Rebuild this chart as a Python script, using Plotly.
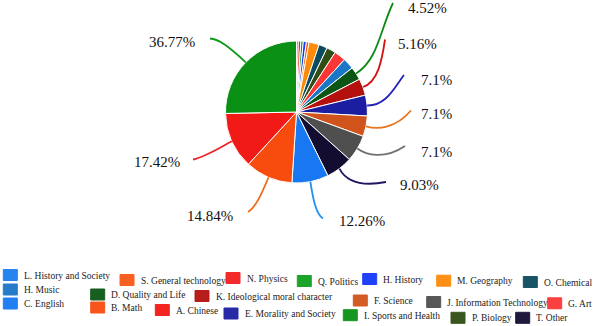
import math
import plotly.graph_objects as go

W, H = 595, 326

# ---- data (slices in clockwise order from 12 o'clock) ----
categories = [
    "L. History and Society", "N. Physics", "Q. Politics", "H. History",
    "S. General technology", "M. Geography", "O. Chemical", "P. Biology", "G. Art", "H. Music",
    "D. Quality and Life", "K. Ideological moral character", "E. Morality and Society",
    "F. Science", "J. Information Technology", "T. Other", "C. English", "B. Math",
    "A. Chinese", "I. Sports and Health",
]
values = [0.42, 0.56, 0.56, 0.70, 0.60, 2.31, 1.94, 2.08, 2.64, 2.53,
          3.03, 3.81, 4.72, 4.67, 6.08, 6.06, 8.33, 10.81, 12.83, 25.33]

# percentage labels shown on the chart
label_categories = ["I. Sports and Health", "A. Chinese", "B. Math", "C. English", "T. Other",
                    "J. Information Technology", "F. Science", "E. Morality and Society",
                    "K. Ideological moral character", "D. Quality and Life"]
label_texts = ["36.77%", "17.42%", "14.84%", "12.26%", "9.03%", "7.1%", "7.1%", "7.1%", "5.16%", "4.52%"]

# legend order (as laid out in the reference)
legend_order = [
    "L. History and Society", "H. Music", "C. English",
    "S. General technology", "D. Quality and Life", "B. Math",
    "N. Physics", "K. Ideological moral character", "A. Chinese",
    "Q. Politics", "E. Morality and Society",
    "H. History", "F. Science", "I. Sports and Health",
    "M. Geography", "J. Information Technology", "P. Biology",
    "O. Chemical", "G. Art", "T. Other",
]

# ---- styles ----
FONT = "Liberation Serif, Times New Roman, Tinos, DejaVu Serif, serif"
colors = {
    "L. History and Society": "#1a7ef0", "N. Physics": "#f21f1f", "Q. Politics": "#10a01e",
    "S. General technology": "#fa5816", "M. Geography": "#fc8a08", "H. History": "#1438f8",
    "O. Chemical": "#0c4a5e", "P. Biology": "#2f4e13", "G. Art": "#fa3636", "H. Music": "#1b76c8",
    "D. Quality and Life": "#0b5614", "K. Ideological moral character": "#b4110e",
    "E. Morality and Society": "#1c1ea2", "F. Science": "#d0531b",
    "J. Information Technology": "#4f4f4f", "T. Other": "#140d32", "C. English": "#1778f2",
    "B. Math": "#f84c0e", "A. Chinese": "#f21a16", "I. Sports and Health": "#0b9016",
}
leader_colors = ["#0c9a1a", "#f02424", "#f06a14", "#1e90f2", "#1e1660",
                 "#707070", "#e8741e", "#2222b8", "#d41212", "#0a8a14"]

# layout positions (pixels): label left/center-y, leader control points (P1, P2, end)
label_pos = [(147, 42), (132, 162), (185, 216), (337, 221), (398, 185),
             (419, 152), (419, 114), (419, 80), (396, 44), (406, 8)]
leader_ctrl = [
    ((229, 47), (219, 39), (210, 38.5)),
    ((216, 150), (205, 157), (193, 159.5)),
    ((262, 193), (256, 207), (248, 212)),
    ((313, 199), (316, 214), (323, 218.5)),
    ((346, 181), (360, 187), (386, 182)),
    ((366, 155), (384, 160), (405, 146)),
    ((378, 130), (396, 128), (411, 110.5)),
    ((386, 106), (394, 88), (404, 75)),
    ((378, 82), (382, 60), (385, 39.5)),
    ((378, 60), (380, 30), (393, 3)),
]
legend_pos = [
    (3.3, 275), (3.3, 289.5), (3.3, 303.5),
    (120, 280), (90.7, 294.5), (90.7, 307.5),
    (226, 278), (195, 296), (155.3, 310),
    (297.3, 281), (224, 313.5),
    (362.7, 279), (353.3, 300.5), (343.3, 315.2),
    (436.7, 280.7), (426.7, 302), (451, 317.8),
    (523.3, 282), (547.7, 303.3), (515.7, 317.8),
]

pie_dom_x = [(296.5 - 71) / W, (296.5 + 71) / W]
pie_dom_y = [1 - 183 / H, 1 - 41 / H]


def px(x, y):
    return x / W, 1 - y / H


fig = go.Figure()
fig.add_trace(go.Pie(
    labels=categories, values=values, sort=False, direction="clockwise", rotation=0,
    marker=dict(colors=[colors[c] for c in categories], line=dict(color="white", width=1)),
    textinfo="none", showlegend=False, domain=dict(x=pie_dom_x, y=pie_dom_y),
))

# pie geometry from domain
cx = (pie_dom_x[0] + pie_dom_x[1]) / 2 * W
cy = (1 - (pie_dom_y[0] + pie_dom_y[1]) / 2) * H
r = min((pie_dom_x[1] - pie_dom_x[0]) * W, (pie_dom_y[1] - pie_dom_y[0]) * H) / 2
total = sum(values)
mid_angle = {}
acc = 0
for c, v in zip(categories, values):
    mid_angle[c] = (acc + v / 2) / total * 2 * math.pi
    acc += v

shapes = []
annotations = []
for i, (cat, txt) in enumerate(zip(label_categories, label_texts)):
    a = mid_angle[cat]
    x0, y0 = cx + r * math.sin(a), cy - r * math.cos(a)
    p1, p2, p3 = leader_ctrl[i]
    pts = [px(x0, y0), px(*p1), px(*p2), px(*p3)]
    path = "M {},{} C {},{} {},{} {},{}".format(*[f"{v:.5f}" for p in pts for v in p])
    shapes.append(dict(type="path", path=path, xref="paper", yref="paper",
                       line=dict(color=leader_colors[i], width=1.8)))
    lx, ly = label_pos[i]
    X, Y = px(lx, ly)
    annotations.append(dict(x=X, y=Y, xref="paper", yref="paper", text=txt, showarrow=False,
                            xanchor="left", yanchor="middle",
                            font=dict(family=FONT, size=15, color="#111111")))

for cat, (sx, sy) in zip(legend_order, legend_pos):
    X0, Y0 = px(sx, sy - 5.5)
    X1, Y1 = px(sx + 14, sy + 5.5)
    shapes.append(dict(type="rect", xref="paper", yref="paper", x0=X0, x1=X1, y0=Y1, y1=Y0,
                       fillcolor=colors[cat], line=dict(color=colors[cat], width=1), opacity=0.95))
    TX, TY = px(sx + 18.5, sy + 0.5)
    annotations.append(dict(x=TX, y=TY, xref="paper", yref="paper", text=cat, showarrow=False,
                            xanchor="left", yanchor="middle",
                            font=dict(family=FONT, size=9.5, color="#222222")))

fig.update_layout(
    width=W, height=H, autosize=False,
    margin=dict(l=0, r=0, t=0, b=0),
    paper_bgcolor="white", plot_bgcolor="white",
    font=dict(family=FONT),
    shapes=shapes, annotations=annotations,
)

fig.write_html("out.html", config={"displayModeBar": False},
               post_script="document.body.style.margin='0';")
